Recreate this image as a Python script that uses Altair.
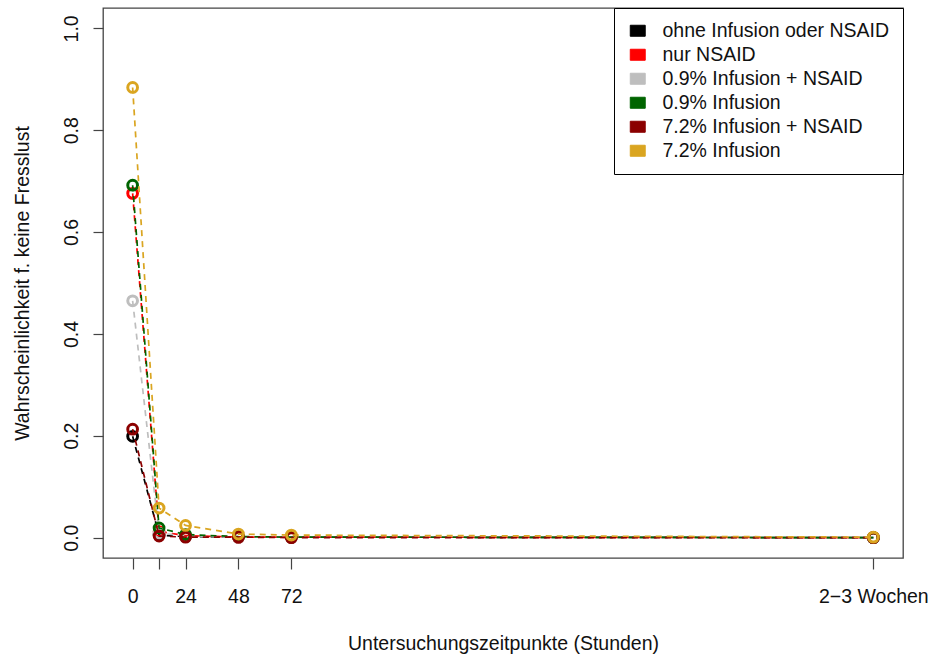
import altair as alt
import pandas as pd

# Time points (hours); the last one stands for "2-3 weeks"
times = [0, 12, 24, 48, 72, 336]

series_names = [
    "ohne Infusion oder NSAID",
    "nur NSAID",
    "0.9% Infusion + NSAID",
    "0.9% Infusion",
    "7.2% Infusion + NSAID",
    "7.2% Infusion",
]
series_colors = ["#000000", "#FF0000", "#BEBEBE", "#006400", "#8B0000", "#DAA520"]

p_ohne = [0.199, 0.005, 0.002, 0.001, 0.001, 0.0]
p_nsaid = [0.676, 0.012, 0.004, 0.001, 0.001, 0.0]
p_09_nsaid = [0.465, 0.009, 0.003, 0.001, 0.001, 0.0]
p_09 = [0.692, 0.019, 0.006, 0.002, 0.001, 0.0]
p_72_nsaid = [0.213, 0.003, 0.001, 0.001, 0.0, 0.0]
p_72 = [0.884, 0.058, 0.024, 0.007, 0.005, 0.001]

all_values = [p_ohne, p_nsaid, p_09_nsaid, p_09, p_72_nsaid, p_72]

rows = []
for name, vals in zip(series_names, all_values):
    for t, v in zip(times, vals):
        rows.append({"zeit": t, "p": v, "gruppe": name})
df = pd.DataFrame(rows)

FONT = "Liberation Sans"
FS = 19.5
BOX = "M-1.36,-1H1.36V1H-1.36Z"

x_enc = alt.X(
    "zeit:Q",
    scale=alt.Scale(domain=[-13.44, 349.44], nice=False, zero=False),
    axis=alt.Axis(
        values=times,
        labelExpr="datum.value == 336 ? '2\u22123 Wochen' : (datum.value == 12 ? '' : datum.label)",
        title="Untersuchungszeitpunkte (Stunden)",
        grid=False,
        domain=False,
        tickSize=11,
        tickColor="#444",
        tickWidth=1.2,
        labelOverlap=False,
        labelFlush=False,
        labelBaseline="alphabetic",
        labelPadding=33,
        labelFontSize=FS,
        labelFont=FONT,
        labelColor="#111",
        titleFont=FONT,
        titleFontSize=FS,
        titleFontWeight="normal",
        titleColor="#111",
        titleBaseline="alphabetic",
        titleAlign="center",
        titleX=400,
        titleY=91,
    ),
)

y_enc = alt.Y(
    "p:Q",
    scale=alt.Scale(domain=[-0.04, 1.04], nice=False, zero=False),
    axis=alt.Axis(
        values=[0, 0.2, 0.4, 0.6, 0.8, 1.0],
        format=".1f",
        title="Wahrscheinlichkeit f. keine Fresslust",
        grid=False,
        domain=False,
        tickSize=10,
        tickColor="#444",
        tickWidth=1.2,
        labelAngle=270,
        labelAlign="center",
        labelBaseline="alphabetic",
        labelPadding=16,
        labelFontSize=FS,
        labelFont=FONT,
        labelColor="#111",
        titleFont=FONT,
        titleFontSize=FS,
        titleFontWeight="normal",
        titleColor="#111",
        titleAngle=270,
        titleBaseline="alphabetic",
        titleAlign="center",
        titleX=-75,
        titleY=275,
    ),
)

color_scale = alt.Scale(domain=series_names, range=series_colors)

layers = []
for name in series_names:
    sub = df[df["gruppe"] == name]
    base = alt.Chart(sub).encode(
        x=x_enc,
        y=y_enc,
        color=alt.Color("gruppe:N", scale=color_scale, legend=None),
    )
    layers.append(base.mark_line(strokeDash=[6, 5], strokeWidth=1.7))
    layers.append(base.mark_point(filled=False, size=95, strokeWidth=3, opacity=1))

# Legend owner: filled boxes with a black border, no drawn data
legend_layer = (
    alt.Chart(df)
    .transform_filter("false")
    .mark_point(shape=BOX, filled=True, stroke="black", strokeWidth=1, opacity=1)
    .encode(
        x=x_enc,
        y=y_enc,
        fill=alt.Fill(
            "gruppe:N",
            scale=alt.Scale(domain=series_names, range=series_colors),
            legend=alt.Legend(
                title=None,
                orient="none",
                legendX=511,
                legendY=0,
                symbolType=BOX,
                symbolSize=121,
                symbolStrokeColor="black",
                symbolStrokeWidth=1,
                symbolOffset=1,
                labelFont=FONT,
                labelFontSize=FS,
                labelColor="#111",
                labelLimit=500,
                labelOffset=15,
                padding=13,
                rowPadding=3,
                strokeColor="black",
                fillColor="white",
            ),
        ),
    )
)

chart = (
    alt.layer(legend_layer, *layers)
    .properties(
        width=800,
        height=550,
        autosize=alt.AutoSizeParams(type="none"),
        padding={"left": 103, "top": 8, "right": 27, "bottom": 96},
    )
    .configure(background="white", font=FONT)
    .configure_view(stroke="#444", strokeWidth=1.3)
    .configure_legend(symbolStrokeColor="black", symbolStrokeWidth=1)
)

chart.save("out.html", embed_options={"renderer": "svg", "actions": False})
